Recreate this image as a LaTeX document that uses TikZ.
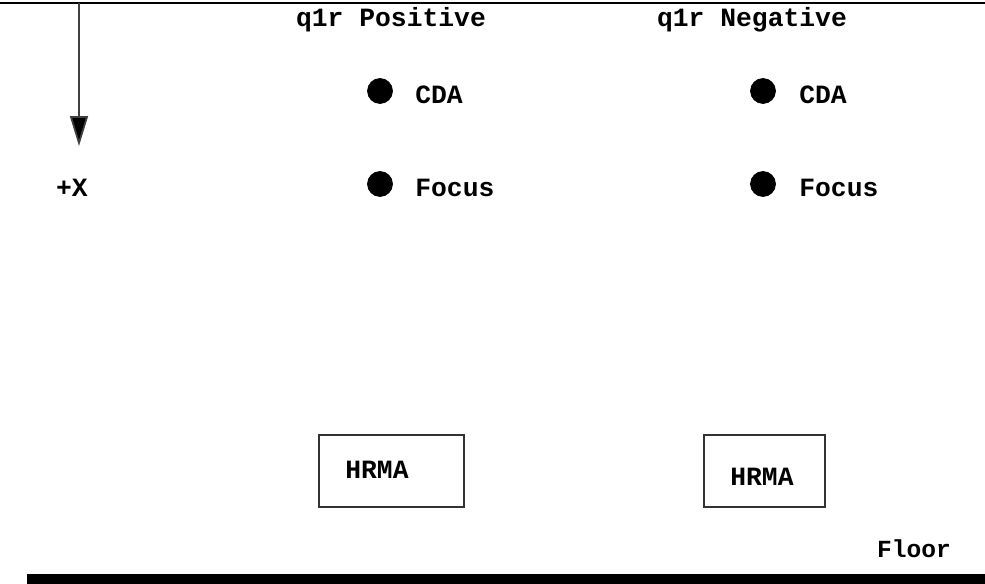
\documentclass[tikz,border=0pt]{standalone}
\usepackage{fontspec}
\setmonofont{Liberation Mono}
\usetikzlibrary{arrows.meta}

\begin{document}
\begin{tikzpicture}[x=0.02cm, y=-0.02cm,
    every node/.style={font=\ttfamily\bfseries\fontsize{15}{18}\selectfont, inner sep=0pt},
    spot/.style={draw, circle, fill=black, minimum size=0.5cm},
    hrma/.style={draw=black!80, line width=0.6pt, rectangle}]
                    \useasboundingbox (0,0) rectangle (985,584);

                    % frame top and the +X direction
                    \draw[line width=0.8pt] (0,3) -- (985,3);
                    \coordinate (xtop) at (79,3);
                    \coordinate (xtip) at (79,146);
                    \draw[black!75, line width=1pt, -{Triangle[width=0.36cm, length=0.6cm, fill=black]}] (xtop) -- (xtip);
                    \node (xlabel) at (72, 188) {+X};

                    % q1r positive
                    \node (pos) at (391, 20) {q1r Positive};
                    \node[spot] (poscda) at (380, 91) {};
                    \node[spot] (posfoc) at (380, 184) {};
                    \node[anchor=west] (poscdalbl) at (415, 95) {CDA};
                    \node[anchor=west] (posfoclbl) at (415, 188) {Focus};

                    % q1r negative
                    \node (neg) at (752, 20) {q1r Negative};
                    \node[spot] (negcda) at (763, 91) {};
                    \node[spot] (negfoc) at (763, 184) {};
                    \node[anchor=west] (negcdalbl) at (799, 95) {CDA};
                    \node[anchor=west] (negfoclbl) at (799, 188) {Focus};

                    % mirrors
                    \draw[hrma] (319,435) rectangle (464,507);
                    \node (hrmaa) at (377, 470) {HRMA};
                    \draw[hrma] (704,435) rectangle (825,507);
                    \node (hrmab) at (762, 477) {HRMA};

                    % floor
                    \node[font=\ttfamily\bfseries\fontsize{14}{16}\selectfont] (floor) at (914, 549) {Floor};
                    \fill (27,574) rectangle (985,584);
                \end{tikzpicture}
\end{document}
